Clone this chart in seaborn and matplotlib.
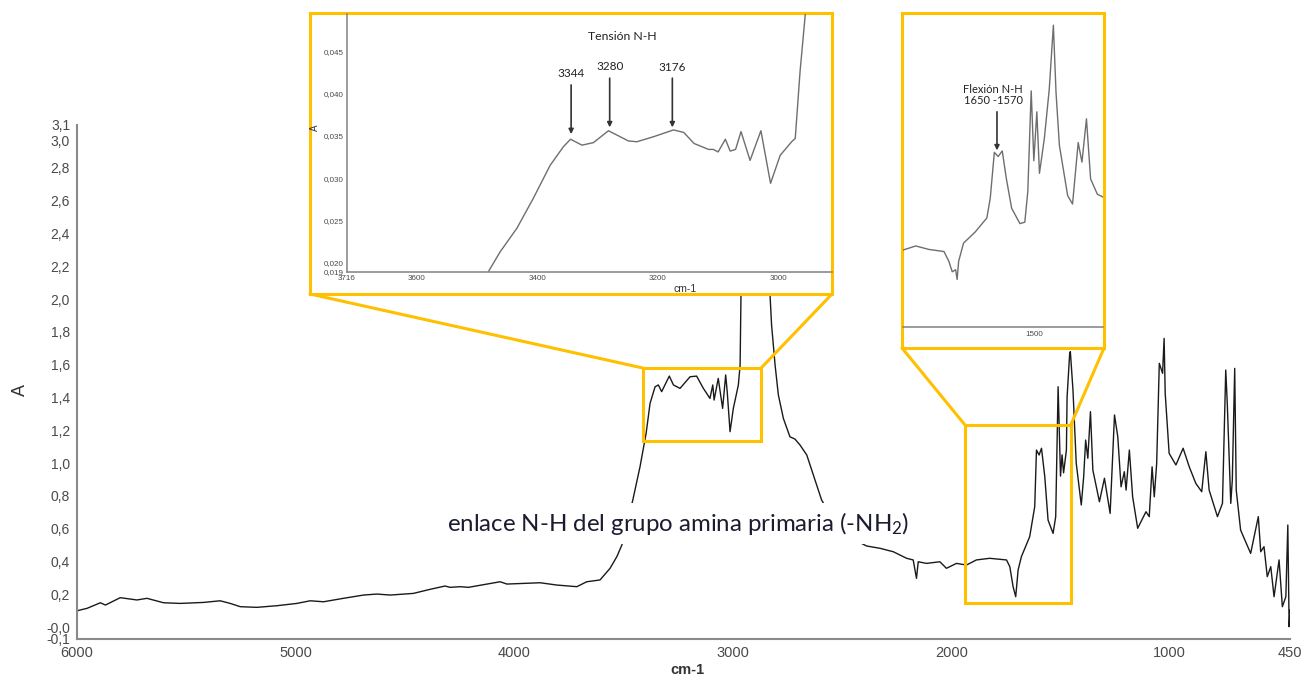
import numpy as np
import pandas as pd
import matplotlib
matplotlib.use("Agg")
import matplotlib.pyplot as plt
from matplotlib.patches import Rectangle, ConnectionPatch
import seaborn as sns

sns.set_style("white")
plt.rcParams['font.family'] = ['Liberation Sans', 'DejaVu Sans']
plt.rcParams['mathtext.fontset'] = 'custom'
plt.rcParams['mathtext.rm'] = 'Lato'
plt.rcParams['mathtext.it'] = 'Lato:italic'
plt.rcParams['mathtext.bf'] = 'Lato:bold'
plt.rcParams['mathtext.default'] = 'rm'

# ---------------- data ----------------
main_wn = [6000, 5954, 5893, 5870, 5802, 5726, 5680, 5604, 5527, 5421, 5345, 5299, 5253, 5177,
           5085, 4994, 4933, 4872, 4781, 4689, 4628, 4567, 4461, 4384, 4316, 4293, 4247, 4209,
           4064, 4033, 3881, 3805, 3713, 3668, 3607, 3561, 3530, 3507, 3457, 3424, 3396, 3378,
           3355, 3340, 3325, 3290, 3271, 3241, 3195, 3165, 3134, 3104, 3091, 3085, 3066, 3055,
           3046, 3032, 3025, 3012, 2997, 2974, 2966, 2962, 2945, 2925, 2900, 2870, 2855, 2840,
           2829, 2822, 2806, 2791, 2768, 2738, 2715, 2692, 2661, 2631, 2593, 2560, 2500, 2440,
           2387, 2326, 2265, 2204, 2174, 2159, 2151, 2113, 2052, 2022, 1976, 1930, 1885, 1824,
           1747, 1732, 1717, 1705, 1694, 1679, 1641, 1618, 1610, 1598, 1587, 1572, 1557, 1534,
           1522, 1511, 1500, 1493, 1486, 1473, 1470, 1458, 1455, 1443, 1428, 1405, 1394, 1385,
           1375, 1363, 1352, 1322, 1299, 1273, 1253, 1238, 1223, 1208, 1200, 1185, 1170, 1147,
           1109, 1094, 1081, 1071, 1060, 1048, 1033, 1026, 1021, 1003, 972, 939, 911, 881, 854,
           835, 820, 782, 759, 744, 737, 721, 714, 703, 696, 676, 630, 595, 584, 569, 554, 538,
           523, 500, 485, 469, 460, 454, 450]
main_a = [0.099, 0.114, 0.148, 0.134, 0.179, 0.165, 0.175, 0.148, 0.144, 0.150, 0.160, 0.144, 0.124, 0.120,
          0.130, 0.144, 0.160, 0.154, 0.175, 0.195, 0.201, 0.195, 0.205, 0.230, 0.250, 0.242, 0.246, 0.242,
          0.276, 0.262, 0.270, 0.256, 0.246, 0.276, 0.287, 0.358, 0.429, 0.500, 0.774, 0.977, 1.181, 1.364,
          1.465, 1.476, 1.435, 1.530, 1.476, 1.455, 1.526, 1.530, 1.455, 1.394, 1.476, 1.384, 1.516, 1.415,
          1.333, 1.537, 1.435, 1.191, 1.333, 1.476, 1.598, 2.024, 2.60, 2.95, 2.70, 2.55, 2.80, 2.40,
          2.024, 1.841, 1.598, 1.415, 1.272, 1.160, 1.146, 1.110, 1.049, 0.927, 0.774, 0.700, 0.600, 0.530,
          0.494, 0.480, 0.459, 0.419, 0.409, 0.297, 0.398, 0.388, 0.398, 0.358, 0.388, 0.378, 0.409, 0.419,
          0.409, 0.368, 0.246, 0.185, 0.348, 0.429, 0.551, 0.734, 1.079, 1.049, 1.090, 0.917, 0.652, 0.571,
          0.673, 1.465, 0.920, 1.050, 0.940, 1.079, 1.400, 1.669, 1.679, 1.445, 0.998, 0.744, 0.917, 1.140,
          1.029, 1.313, 0.957, 0.764, 0.907, 0.693, 1.293, 1.160, 0.855, 0.947, 0.835, 1.079, 0.794, 0.602,
          0.703, 0.673, 0.977, 0.794, 0.998, 1.608, 1.547, 1.760, 1.425, 1.059, 0.988, 1.090, 0.977, 0.876, 0.825,
          1.069, 0.835, 0.673, 0.754, 1.567, 1.364, 0.754, 0.896, 1.577, 0.835, 0.591, 0.449, 0.673, 0.459, 0.490, 0.307, 0.368,
          0.185, 0.409, 0.124, 0.185, 0.622, 0.002, 0.104]

ins1_wn = [3490, 3482, 3462, 3434, 3407, 3379, 3357, 3345, 3326, 3307, 3282, 3249, 3235, 3207, 3174,
           3157, 3140, 3116, 3108, 3100, 3088, 3080, 3071, 3062, 3047, 3029, 3013, 2997, 2978, 2972,
           2964, 2955, 2950]
ins1_a = [0.0180, 0.0189, 0.0213, 0.0241, 0.0276, 0.0315, 0.0337, 0.0346, 0.0339, 0.0342, 0.0356, 0.0344,
          0.0343, 0.0349, 0.0357, 0.0354, 0.0341, 0.0334, 0.0334, 0.0331, 0.0346, 0.0332, 0.0334, 0.0355,
          0.0321, 0.0356, 0.0294, 0.0327, 0.0343, 0.0347, 0.0426, 0.0496, 0.0540]

ins2_wn = [1851, 1816, 1781, 1741, 1728, 1719, 1710, 1706, 1702, 1689, 1658, 1627, 1618, 1607, 1597,
           1586, 1575, 1561, 1539, 1526, 1518, 1509, 1502, 1494, 1487, 1474, 1461, 1450, 1443, 1434,
           1412, 1399, 1384, 1374, 1362, 1351, 1333, 1318]
ins2_a = [0.40, 0.43, 0.405, 0.39, 0.32, 0.245, 0.26, 0.19, 0.32, 0.45, 0.53, 0.63, 0.77, 1.10, 1.07,
          1.11, 0.91, 0.70, 0.59, 0.60, 0.82, 1.54, 1.04, 1.39, 0.95, 1.20, 1.55, 2.01, 1.53, 1.15,
          0.79, 0.73, 1.17, 1.03, 1.34, 0.91, 0.80, 0.78]

x_ticks = [6000, 5000, 4000, 3000, 2000, 1000, 450]
x_ticklabels = ["6000", "5000", "4000", "3000", "2000", "1000", "450"]
y_lo, y_hi = -0.073, 3.061
y_ticks = [y_lo, 0.0, 0.2, 0.4, 0.6, 0.8, 1.0, 1.2, 1.4, 1.6, 1.8, 2.0, 2.2, 2.4, 2.6, 2.8, 3.0, y_hi]
y_ticklabels = ["-0,1", "-0,0", "0,2", "0,4", "0,6", "0,8", "1,0", "1,2", "1,4", "1,6", "1,8",
                "2,0", "2,2", "2,4", "2,6", "2,8", "3,0", "3,1"]

ins1_xlim = (3716, 2911)
ins1_ylim = (0.01894, 0.04937)
ins1_xticks = [3716, 3600, 3400, 3200, 3000]
ins1_yticks = [0.01894, 0.020, 0.025, 0.030, 0.035, 0.040, 0.045]
ins1_yticklabels = ["0,019", "0,020", "0,025", "0,030", "0,035", "0,040", "0,045"]
nh_peaks = [3344, 3280, 3176]
nh_labels = ["3344", "3280", "3176"]
nh_label_y = [0.0424, 0.0432, 0.0431]
nh_arrow_top = [0.0410, 0.0418, 0.0418]
nh_arrow_tip = [0.0352, 0.0360, 0.0360]

ins2_xlim = (1850, 1318)
ins2_ylim = (-0.15, 2.09)
ins2_xticks = [1500]

zoom1 = (3410, 2870, 1.134, 1.579)   # wn_left, wn_right, A_bottom, A_top
zoom2 = (1937, 1453, 0.146, 1.232)

YELLOW = "#FFC000"
GRAY = "#8a8a8a"
TXT = "#4a4a4a"

# ---------------- figure ----------------
W, H = 1304, 679
fig = plt.figure(figsize=(W / 100, H / 100), dpi=100)

ax = fig.add_axes([77 / W, 40 / H, 1213 / W, 514 / H])
df_main = pd.DataFrame({"wn": main_wn, "A": main_a})
sns.lineplot(data=df_main, x="wn", y="A", ax=ax, color="#1a1a1a", linewidth=1.0,
             estimator=None, sort=False)
ax.set_xlim(6000, 450)
ax.set_ylim(y_lo, y_hi)
ax.set_xticks(x_ticks)
ax.set_xticklabels(x_ticklabels, fontsize=10.5, color=TXT)
ax.set_yticks(y_ticks)
ax.set_yticklabels(y_ticklabels, fontsize=10, color=TXT)
ylabs = ax.get_yticklabels()
ylabs[-2].set_va("top")       # "3,0" sits just under its tick, as in the reference
for s in ["top", "right"]:
    ax.spines[s].set_visible(False)
for s in ["left", "bottom"]:
    ax.spines[s].set_color(GRAY)
    ax.spines[s].set_linewidth(1.5)
ax.tick_params(axis="both", direction="out", length=4, width=1, color=GRAY, pad=1)
ax.set_xlabel("cm-1", fontsize=10.5, fontweight="bold", color="#333333")
ax.xaxis.set_label_coords(0.503, -0.047)
ax.set_ylabel("A", fontsize=13, color="#333333")
ax.yaxis.set_label_coords(-0.040, 0.484)

# zoom boxes
for (xl, xr, yb, yt) in [zoom1, zoom2]:
    ax.add_patch(Rectangle((xl, yb), xr - xl, yt - yb, fill=False, edgecolor=YELLOW,
                           linewidth=2.2, zorder=4))

ax.text(3250, 0.634, "enlace N-H del grupo amina primaria (-NH$_2$)", ha="center", va="center",
        fontsize=17.3, family="Lato", color="#1c1c30", zorder=6,
        bbox=dict(facecolor="white", edgecolor="none", pad=5))

# ---------------- inset 1 ----------------
bg1 = fig.add_axes([310 / W, (H - 294) / H, 522 / W, 281 / H], zorder=2)
bg1.set_facecolor("white")
bg1.set_xticks([]); bg1.set_yticks([])
for s in bg1.spines.values():
    s.set_color(YELLOW); s.set_linewidth(2.2)

a1 = fig.add_axes([347 / W, (H - 272) / H, 485 / W, 258 / H], zorder=3)
a1.patch.set_alpha(0)
df1 = pd.DataFrame({"wn": ins1_wn, "A": ins1_a})
sns.lineplot(data=df1, x="wn", y="A", ax=a1, color="#6e6e6e", linewidth=1.0,
             estimator=None, sort=False)
a1.set_xlim(*ins1_xlim)
a1.set_ylim(*ins1_ylim)
a1.set_xticks(ins1_xticks)
a1.set_xticklabels([str(t) for t in ins1_xticks], fontsize=5.8, color=TXT)
a1.set_yticks(ins1_yticks)
a1.set_yticklabels(ins1_yticklabels, fontsize=5.8, color=TXT)
a1.tick_params(axis="both", direction="out", length=2, width=0.8, color=GRAY, pad=0.5)
for s in ["top", "right"]:
    a1.spines[s].set_visible(False)
for s in ["left", "bottom"]:
    a1.spines[s].set_color(GRAY); a1.spines[s].set_linewidth(1.2)
a1.set_xlabel("cm-1", fontsize=7.5, color="#333333")
a1.xaxis.set_label_coords(0.697, -0.045)
a1.set_ylabel("A", fontsize=7, color="#333333")
a1.yaxis.set_label_coords(-0.055, 0.56)
a1.text(3259, 0.04666, "Tensión N-H", ha="center", va="center", fontsize=8.8,
        family="Lato", color="#222222")
for wn, lab, ly, at, tip in zip(nh_peaks, nh_labels, nh_label_y, nh_arrow_top, nh_arrow_tip):
    a1.text(wn, ly, lab, ha="center", va="center", fontsize=8.5, family="Lato", color="#222222")
    a1.annotate("", xy=(wn, tip), xytext=(wn, at),
                arrowprops=dict(arrowstyle="-|>", color="#333333", lw=1.2, mutation_scale=7,
                                shrinkA=0, shrinkB=0))

# ---------------- inset 2 ----------------
bg2 = fig.add_axes([902 / W, (H - 348) / H, 202 / W, 335 / H], zorder=2)
bg2.set_facecolor("white")
bg2.set_xticks([]); bg2.set_yticks([])
for s in bg2.spines.values():
    s.set_color(YELLOW); s.set_linewidth(2.2)

a2 = fig.add_axes([903 / W, (H - 327) / H, 200 / W, 313 / H], zorder=3)
a2.patch.set_alpha(0)
df2 = pd.DataFrame({"wn": ins2_wn, "A": ins2_a})
sns.lineplot(data=df2, x="wn", y="A", ax=a2, color="#6e6e6e", linewidth=1.0,
             estimator=None, sort=False)
a2.set_xlim(*ins2_xlim)
a2.set_ylim(*ins2_ylim)
a2.set_xticks(ins2_xticks)
a2.set_xticklabels([str(t) for t in ins2_xticks], fontsize=5.8, color=TXT)
a2.set_yticks([])
a2.tick_params(axis="x", direction="out", length=2, width=0.8, color=GRAY, pad=1)
for s in ["top", "right", "left"]:
    a2.spines[s].set_visible(False)
a2.spines["bottom"].set_color(GRAY); a2.spines["bottom"].set_linewidth(1.2)
a2.set_xlabel(""); a2.set_ylabel("")
a2.text(1610, 1.507, "Flexión N-H\n1650 -1570", ha="center", va="center", fontsize=8,
        family="Lato", color="#222222", linespacing=1.0)
a2.annotate("", xy=(1600, 1.114), xytext=(1600, 1.39),
            arrowprops=dict(arrowstyle="-|>", color="#333333", lw=1.2, mutation_scale=7,
                            shrinkA=0, shrinkB=0))

# ---------------- connectors ----------------
for (xl, xr, yb, yt), bg in [(zoom1, bg1), (zoom2, bg2)]:
    for xd, xa in [(xl, 0), (xr, 1)]:
        cp = ConnectionPatch(xyA=(xd, yt), coordsA=ax.transData, xyB=(xa, 0), coordsB=bg.transAxes,
                             color=YELLOW, linewidth=2.2, zorder=1)
        fig.add_artist(cp)

fig.savefig("out.png", dpi=100)
